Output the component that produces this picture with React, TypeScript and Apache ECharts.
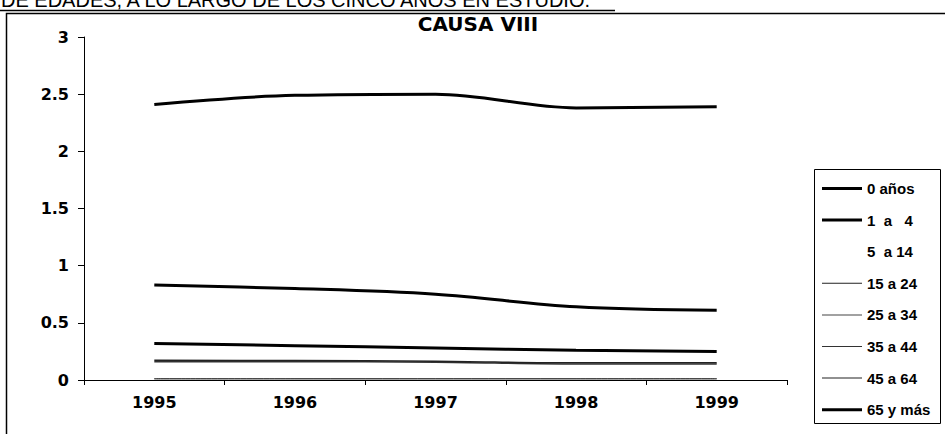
import React, { useEffect, useRef } from "react";
import * as echarts from "echarts";

const years = ["1995", "1996", "1997", "1998", "1999"];
const seriesNames = ["0 años", "1  a   4", "5  a 14", "15 a 24", "25 a 34", "35 a 44", "45 a 64", "65 y más"];
const v0 = [0.83, 0.8, 0.75, 0.64, 0.61];
const v1a4 = [0.32, 0.3, 0.28, 0.26, 0.25];
const v5a14 = [0.005, 0.005, 0.005, 0.005, 0.005];
const v15a24 = [0.01, 0.01, 0.01, 0.01, 0.01];
const v25a34 = [0.012, 0.012, 0.012, 0.012, 0.012];
const v35a44 = [0.16, 0.16, 0.155, 0.14, 0.14];
const v45a64 = [0.172, 0.17, 0.165, 0.15, 0.15];
const v65 = [2.41, 2.49, 2.5, 2.38, 2.39];

const seriesValues = [v0, v1a4, v5a14, v15a24, v25a34, v35a44, v45a64, v65];
const seriesWidths = [3, 3, 1, 1, 1, 1.5, 1.5, 3];
const legendHeights = [3, 3, 1, 1, 1, 1, 1, 3];
const seriesColors = ["#000", "#000", "#fff", "#222", "#444", "#333", "#222", "#000"];

export default function App() {
  const ref = useRef<HTMLDivElement>(null);
  useEffect(() => {
    const chart = echarts.init(ref.current!, null, { renderer: "svg" });
    const lib = "'Liberation Sans', Arial, sans-serif";
    const dv = "'DejaVu Sans', sans-serif";
    const legendTop0 = 188;
    const legendStep = 31.6;
    chart.setOption({
      animation: false,
      backgroundColor: "#fff",
      textStyle: { fontFamily: lib },
      grid: { left: 84, right: 158, top: 37, bottom: 54 },
      xAxis: {
        type: "category",
        data: years,
        boundaryGap: true,
        axisLine: { lineStyle: { color: "#000", width: 1 } },
        axisTick: { show: true, inside: false, length: 5, lineStyle: { color: "#000" } },
        axisLabel: { color: "#000", fontSize: 16, fontWeight: "bold", margin: 14, fontFamily: dv },
        splitLine: { show: false },
      },
      yAxis: {
        type: "value",
        min: 0,
        max: 3,
        interval: 0.5,
        axisLine: { show: true, lineStyle: { color: "#000", width: 1 } },
        axisTick: { show: true, length: 6, lineStyle: { color: "#000" } },
        axisLabel: { color: "#000", fontSize: 16, fontWeight: "bold", margin: 15, fontFamily: dv },
        splitLine: { show: false },
      },
      legend: seriesNames.map((name, i) => ({
        orient: "vertical",
        left: 817,
        top: legendTop0 + i * legendStep - 12,
        itemWidth: 40,
        itemHeight: legendHeights[i],
        icon: "rect",
        data: [name],
        selectedMode: false,
        textStyle: { fontSize: 15, fontWeight: "bold", color: "#000", fontFamily: lib },
      })),
      graphic: [
        {
          type: "rect",
          shape: { x: 6.5, y: 13.5, width: 1000, height: 600 },
          style: { fill: "none", stroke: "#000", lineWidth: 1.5 },
          silent: true,
        },
        {
          type: "rect",
          shape: { x: 814.5, y: 169.5, width: 126, height: 254 },
          style: { fill: "none", stroke: "#000", lineWidth: 1 },
          silent: true,
        },
        {
          type: "text",
          x: 478,
          y: 24,
          style: {
            text: "CAUSA VIII",
            fontSize: 20,
            fontWeight: "bold",
            fontFamily: dv,
            fill: "#000",
            align: "center",
            verticalAlign: "middle",
          },
          silent: true,
        },
        {
          type: "text",
          x: 1,
          y: 9.5,
          style: {
            text: "DE EDADES, A LO LARGO DE LOS CINCO AÑOS EN ESTUDIO.",
            fontSize: 20,
            fontFamily: lib,
            fill: "#000",
            verticalAlign: "bottom",
          },
          silent: true,
        },
        {
          type: "line",
          shape: { x1: 0, y1: 10.5, x2: 615, y2: 10.5 },
          style: { stroke: "#000", lineWidth: 1.5 },
          silent: true,
        },
      ],
      series: seriesNames.map((name, i) => ({
        name,
        type: "line",
        data: seriesValues[i],
        smooth: 0.35,
        showSymbol: false,
        symbol: "none",
        lineStyle: { color: seriesColors[i], width: seriesWidths[i] },
        itemStyle: { color: seriesColors[i] },
        z: seriesWidths[i] === 3 ? 3 : 2,
      })),
    });
    return () => chart.dispose();
  }, []);
  return (
    <div
      ref={ref}
      style={{ position: "fixed", left: 0, top: 0, width: 945, height: 434 }}
    />
  );
}
